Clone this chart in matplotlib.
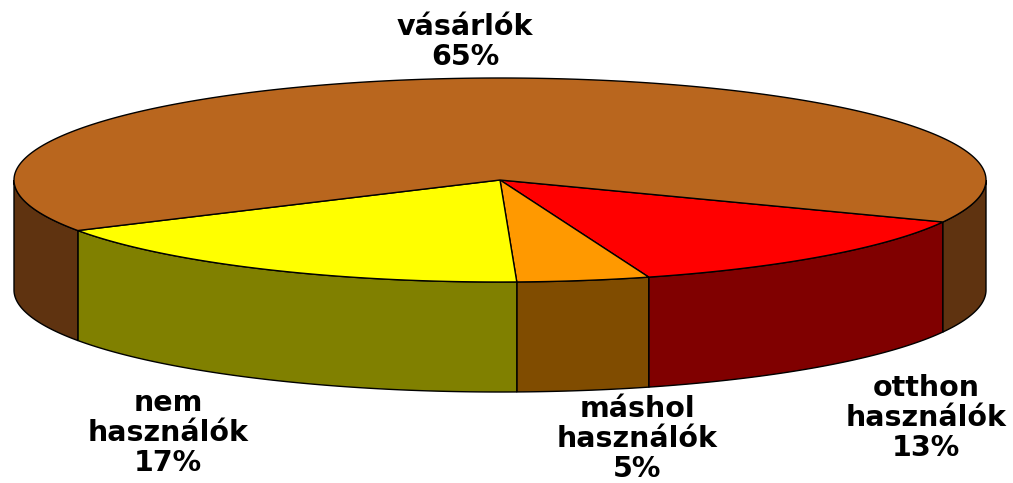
import numpy as np
import matplotlib
matplotlib.use("Agg")
import matplotlib.pyplot as plt

# Slice shares, clockwise from the right hand edge of the red slice
labels = ['otthon\nhasználók\n13%', 'máshol\nhasználók\n5%', 'nem\nhasználók\n17%', 'vásárlók\n65%']
values = [13.3, 4.4, 17.3, 65]
top_colors = ['#ff0000', '#ff9900', '#ffff00', '#b9661e']
side_colors = ['#800000', '#804c00', '#808000', '#5f3310']
label_pos = [(926, 418), (637, 439), (168, 433), (465, 42)]

# Ellipse geometry in pixels
cx, cy = 500, 180
rx, ry = 486, 102
depth = 110
start_angle = -24.3


def rim(a0, a1):
    t = np.radians(np.linspace(a0, a1, max(2, int(abs(a1 - a0) * 4))))
    return cx + rx * np.cos(t), cy - ry * np.sin(t)


fig = plt.figure(figsize=(10.13, 4.83), dpi=100)
ax = fig.add_axes([0, 0, 1, 1])
ax.set_xlim(0, 1013)
ax.set_ylim(483, 0)
ax.axis('off')

angles = start_angle - np.cumsum([0] + values) * 360 / sum(values)

# Side walls first, only the front half of the rim is visible
for i, color in enumerate(side_colors):
    hi, lo = angles[i], angles[i + 1]
    for shift in (0, 360):
        a1 = min(hi + shift, 0)
        a0 = max(lo + shift, -180)
        if a1 <= a0:
            continue
        x, y = rim(a0, a1)
        ax.fill(np.r_[x, x[::-1]], np.r_[y, y[::-1] + depth],
                facecolor=color, edgecolor='black', linewidth=1, zorder=2)

# Top faces
for i, color in enumerate(top_colors):
    x, y = rim(angles[i + 1], angles[i])
    ax.fill(np.r_[cx, x], np.r_[cy, y], facecolor=color, edgecolor='black',
            linewidth=1, joinstyle='round', zorder=3)

for text, (tx, ty) in zip(labels, label_pos):
    ax.text(tx, ty, text, ha='center', va='center', fontsize=20.5, fontweight='bold',
            family='DejaVu Sans', linespacing=1.08, color='black', zorder=4)

plt.savefig('out.png', dpi=100)
plt.close()
